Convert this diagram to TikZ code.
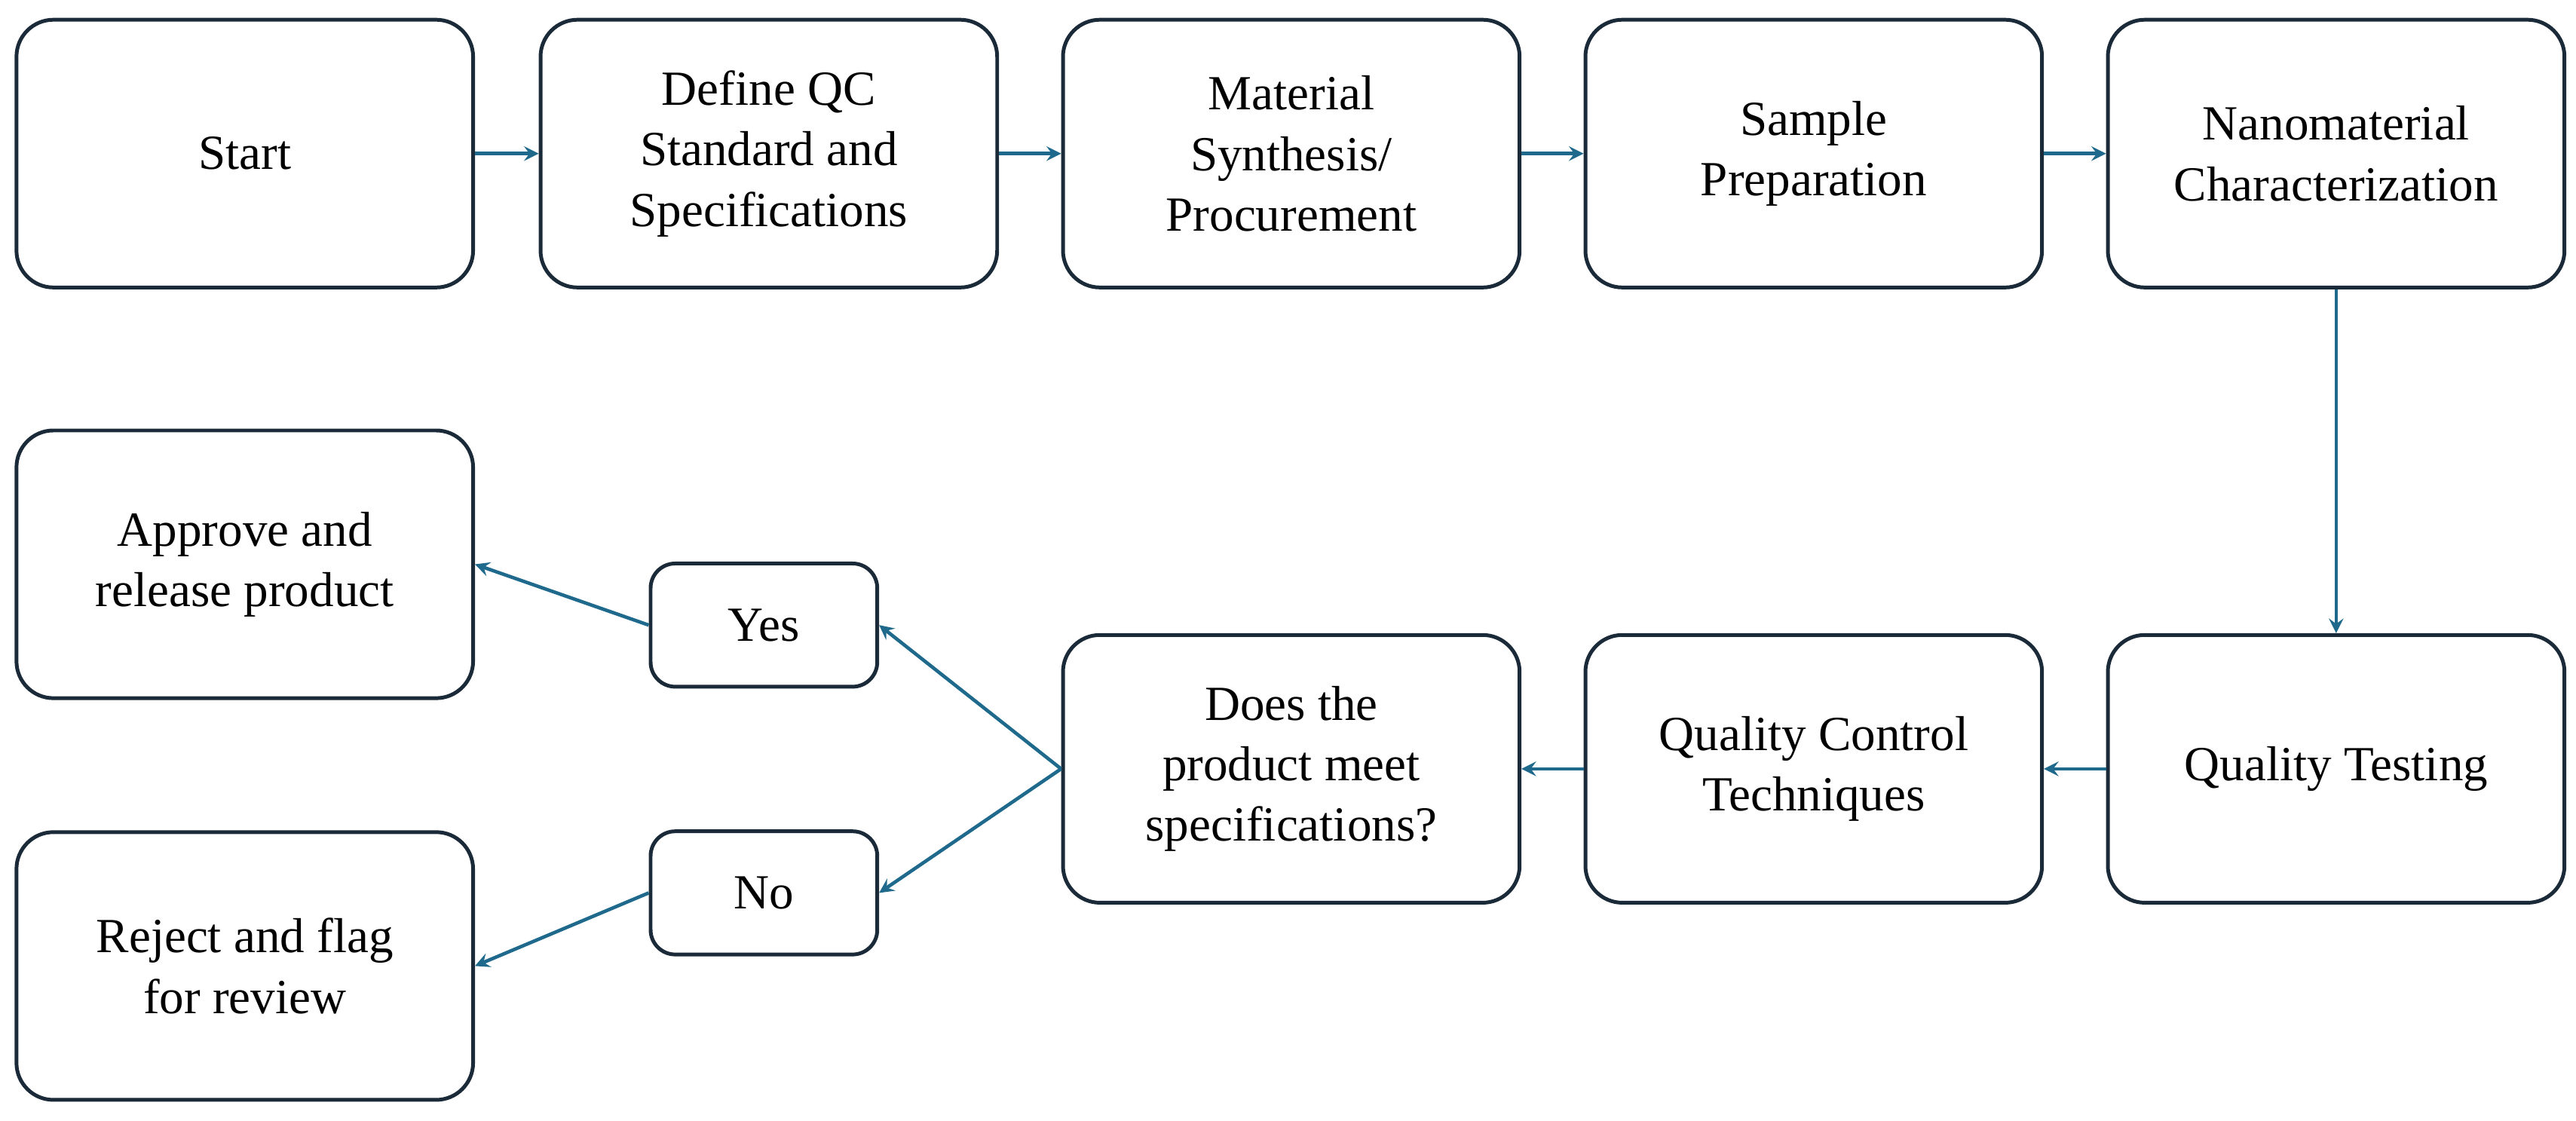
\documentclass[tikz,border=0pt]{standalone}
\usepackage{fontspec}
\setmainfont{Liberation Serif}
\usetikzlibrary{positioning}
\definecolor{boxline}{HTML}{1B2A38}
\definecolor{flow}{HTML}{1F6A8C}
\begin{document}
\begin{tikzpicture}[%
        x=0.02cm, y=-0.02cm,
        >=stealth,
        box/.style={draw=boxline, line width=1.3pt, rounded corners=0.45cm,
            minimum width=5.56cm, minimum height=3.26cm, align=center,
            font=\fontsize{17}{21}\selectfont, inner sep=2pt},
        tag/.style={draw=boxline, line width=1.3pt, rounded corners=0.3cm,
            minimum width=2.76cm, minimum height=1.5cm,
            font=\fontsize{17}{21}\selectfont},
        flowline/.style={->, draw=flow, line width=1.2pt}
        ]
        \useasboundingbox (0,0) rectangle (1568,682);

        \node[box] (start) at (149,93.5) {Start};
        \node[box] (define) at (468,93.5) {Define QC\\Standard and\\Specifications};
        \node[box] (synth) at (786,93.5) {Material\\Synthesis/\\Procurement};
        \node[box] (prep) at (1104,93.5) {Sample\\Preparation};
        \node[box] (charact) at (1422,93.5) {Nanomaterial\\Characterization};

        \node[box] (testing) at (1422,468) {Quality Testing};
        \node[box] (techniques) at (1104,468) {Quality Control\\Techniques};
        \node[box] (meet) at (786,468) {Does the\\product meet\\specifications?};

        \node[tag] (yes) at (465,380.5) {Yes};
        \node[tag] (no) at (465,543.5) {No};
        \node[box] (approve) at (149,343.5) {Approve and\\release product};
        \node[box] (reject) at (149,588) {Reject and flag\\for review};

        \draw[flowline] (start) -- (define);
        \draw[flowline] (define) -- (synth);
        \draw[flowline] (synth) -- (prep);
        \draw[flowline] (prep) -- (charact);
        \draw[flowline] (charact) -- (testing);
        \draw[flowline] (testing) -- (techniques);
        \draw[flowline] (techniques) -- (meet);

        \draw[flowline] (meet.west) -- (yes.east);
        \draw[flowline] (meet.west) -- (no.east);
        \draw[flowline] (yes.west) -- (approve.east);
        \draw[flowline] (no.west) -- (reject.east);

    \end{tikzpicture}
\end{document}
